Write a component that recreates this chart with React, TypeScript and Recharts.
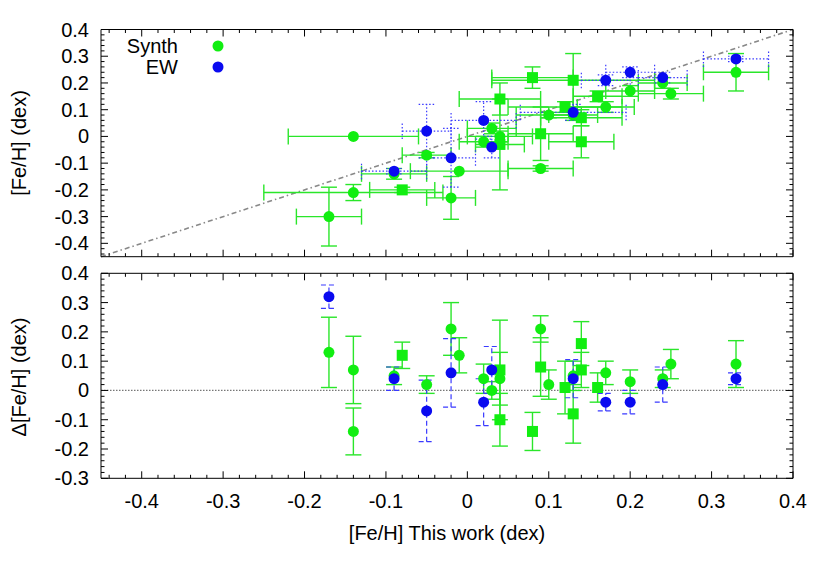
import React from 'react';
import { ScatterChart, Scatter, XAxis, YAxis, ErrorBar, ReferenceLine } from 'recharts';

// ---------------- data ----------------
// [Fe/H] this work, literature [Fe/H], x error, y error
const topSynthCircles: number[][] = [
  [-0.17, -0.30, 0.04, 0.11],
  [-0.14, 0.00, 0.08, 0.0],
  [-0.14, -0.21, 0.11, 0.03],
  [-0.09, -0.14, 0.04, 0.02],
  [-0.05, -0.07, 0.03, 0.01],
  [-0.02, -0.23, 0.03, 0.08],
  [-0.01, -0.13, 0.06, 0.0],
  [0.02, -0.02, 0.03, 0.02],
  [0.03, 0.03, 0.03, 0.02],
  [0.04, 0.00, 0.04, 0.02],
  [0.09, -0.12, 0.04, 0.01],
  [0.10, 0.08, 0.04, 0.01],
  [0.13, 0.08, 0.03, 0.02],
  [0.17, 0.11, 0.035, 0.02],
  [0.20, 0.17, 0.03, 0.02],
  [0.24, 0.20, 0.03, 0.02],
  [0.25, 0.16, 0.04, 0.02],
  [0.33, 0.24, 0.04, 0.07],
];
const topSynthSquares: number[][] = [
  [-0.08, -0.20, 0.04, 0.01],
  [0.04, -0.03, 0.03, 0.17],
  [0.04, 0.14, 0.05, 0.06],
  [0.08, 0.22, 0.05, 0.04],
  [0.09, 0.01, 0.04, 0.10],
  [0.12, 0.11, 0.07, 0.02],
  [0.13, 0.21, 0.10, 0.10],
  [0.14, 0.07, 0.05, 0.03],
  [0.14, -0.02, 0.04, 0.06],
  [0.16, 0.15, 0.03, 0.02],
];
const topEW: number[][] = [
  [-0.09, -0.13, 0.04, 0.01],
  [-0.05, 0.02, 0.03, 0.10],
  [-0.02, -0.08, 0.03, 0.11],
  [0.02, 0.06, 0.04, 0.07],
  [0.03, -0.04, 0.0, 0.04],
  [0.13, 0.09, 0.065, 0.03],
  [0.17, 0.21, 0.03, 0.02],
  [0.20, 0.24, 0.03, 0.02],
  [0.24, 0.22, 0.03, 0.02],
  [0.33, 0.29, 0.04, 0.01],
];
// [Fe/H] this work, delta, error
const deltaSynthCircles: number[][] = [
  [-0.17, 0.13, 0.12],
  [-0.14, -0.14, 0.08],
  [-0.14, 0.07, 0.115],
  [-0.09, 0.05, 0.03],
  [-0.05, 0.02, 0.03],
  [-0.02, 0.21, 0.09],
  [-0.01, 0.12, 0.06],
  [0.02, 0.04, 0.05],
  [0.03, 0.00, 0.03],
  [0.04, 0.04, 0.09],
  [0.09, 0.21, 0.045],
  [0.10, 0.02, 0.05],
  [0.13, 0.05, 0.05],
  [0.17, 0.06, 0.04],
  [0.20, 0.03, 0.04],
  [0.24, 0.04, 0.03],
  [0.25, 0.09, 0.05],
  [0.33, 0.09, 0.08],
];
const deltaSynthSquares: number[][] = [
  [-0.08, 0.12, 0.045],
  [0.04, 0.07, 0.17],
  [0.04, -0.10, 0.09],
  [0.08, -0.14, 0.065],
  [0.09, 0.08, 0.10],
  [0.12, 0.01, 0.09],
  [0.13, -0.08, 0.10],
  [0.14, 0.07, 0.06],
  [0.14, 0.16, 0.075],
  [0.16, 0.01, 0.05],
];
const deltaEW: number[][] = [
  [-0.17, 0.32, 0.04],
  [-0.09, 0.04, 0.04],
  [-0.05, -0.07, 0.105],
  [-0.02, 0.06, 0.117],
  [0.02, -0.04, 0.08],
  [0.03, 0.07, 0.08],
  [0.13, 0.04, 0.065],
  [0.17, -0.04, 0.03],
  [0.20, -0.04, 0.04],
  [0.24, 0.02, 0.06],
  [0.33, 0.04, 0.02],
];

const xDomain: [number, number] = [-0.45, 0.4];
const topYDomain: [number, number] = [-0.45, 0.4];
const bottomYDomain: [number, number] = [-0.3, 0.4];
const xTickLabels = ['-0.4', '-0.3', '-0.2', '-0.1', '0', '0.1', '0.2', '0.3', '0.4'];
const topYTickLabels = ['-0.4', '-0.3', '-0.2', '-0.1', '0', '0.1', '0.2', '0.3', '0.4'];
const bottomYTickLabels = ['-0.3', '-0.2', '-0.1', '0', '0.1', '0.2', '0.3', '0.4'];
const legendLabels = ['Synth', 'EW'];
const xTitle = '[Fe/H] This work (dex)';
const topYTitle = '[Fe/H] (dex)';
const bottomYTitle = '\u0394[Fe/H] (dex)';

// ---------------- layout / style ----------------
const W = 830;
const H = 581;
const LEFT = 101;
const RIGHT = 793;
const TOP1 = 29.5;
const BOT1 = 256.7;
const TOP2 = 273.3;
const BOT2 = 478.3;
const FONT = '"Liberation Sans", Arial, Helvetica, sans-serif';
const FS = 20;
const GREEN = '#11ee11';
const GREEN_ERR = '#2ae62a';
const BLUE = '#0a0af0';
const BLUE_ERR = '#3a3aff';
const R = 5.5;

const toTop = (rows: number[][]) => rows.map(([x, y, xe, ye]) => ({ x, y, xe, ye }));
const toDelta = (rows: number[][]) => rows.map(([x, y, ye]) => ({ x, y, ye }));

const stepTicks = (lo: number, hi: number): number[] => {
  const out: number[] = [];
  for (let k = Math.ceil(lo * 50 - 1e-6); k <= Math.floor(hi * 50 + 1e-6); k++) out.push(Math.round(k * 2) / 100);
  return out;
};
const isMajor = (v: number) => Math.abs(v * 10 - Math.round(v * 10)) < 1e-6;
const labelFor = (labels: string[], v: number) => labels.find((l) => Math.abs(parseFloat(l) - v) < 1e-6);

const makeXTick = (side: 'bottom' | 'top', labels: string[] | null) => (props: any) => {
  const { x, y, payload } = props;
  const v = payload.value;
  const major = isMajor(v);
  const len = major ? 7 : 3.5;
  const dir = side === 'bottom' ? -1 : 1;
  const lab = labels && major ? labelFor(labels, v) : undefined;
  return (
    <g>
      <line x1={x} x2={x} y1={y} y2={y + dir * len} stroke="#000" strokeWidth={1} />
      {lab !== undefined && (
        <text x={x} y={y + 23} textAnchor="middle" dominantBaseline="central" fontFamily={FONT} fontSize={FS} fill="#000">
          {lab}
        </text>
      )}
    </g>
  );
};

const makeYTick = (side: 'left' | 'right', labels: string[] | null) => (props: any) => {
  const { x, y, payload } = props;
  const v = payload.value;
  const major = isMajor(v);
  const len = major ? 7 : 3.5;
  const dir = side === 'left' ? 1 : -1;
  const lab = labels && major ? labelFor(labels, v) : undefined;
  return (
    <g>
      <line x1={x} x2={x + dir * len} y1={y} y2={y} stroke="#000" strokeWidth={1} />
      {lab !== undefined && (
        <text x={x - 12} y={y} textAnchor="end" dominantBaseline="central" fontFamily={FONT} fontSize={FS} fill="#000">
          {lab}
        </text>
      )}
    </g>
  );
};

const circleShape = (fill: string) => (p: any) => <circle cx={p.cx} cy={p.cy} r={R} fill={fill} />;
const squareShape = (fill: string) => (p: any) => <rect x={p.cx - R} y={p.cy - R} width={2 * R} height={2 * R} fill={fill} />;

const axisCommon = { tickSize: 0, tickMargin: 0, tickLine: false, interval: 0 as const, axisLine: { stroke: '#000', strokeWidth: 1 }, allowDataOverflow: true };

function Panel(props: { top: number; bottom: number; yDomain: [number, number]; yLabels: string[]; xLabels: boolean; children: React.ReactNode }) {
  const { top, bottom, yDomain, yLabels, xLabels, children } = props;
  const xt = stepTicks(xDomain[0], xDomain[1]);
  const yt = stepTicks(yDomain[0], yDomain[1]);
  return (
    <div style={{ position: 'absolute', left: 0, top: 0, width: W, height: H }}>
      <ScatterChart width={W} height={H} margin={{ top: top - 1, right: W - RIGHT - 1, bottom: H - bottom - 1, left: LEFT - 1 }}>
        <XAxis xAxisId="b" type="number" dataKey="x" orientation="bottom" height={1} domain={xDomain} ticks={xt} tick={makeXTick('bottom', xLabels ? xTickLabels : null)} {...axisCommon} />
        <XAxis xAxisId="t" type="number" dataKey="x" orientation="top" height={1} domain={xDomain} ticks={xt} tick={makeXTick('top', null)} {...axisCommon} />
        <YAxis yAxisId="l" type="number" dataKey="y" orientation="left" width={1} domain={yDomain} ticks={yt} tick={makeYTick('left', yLabels)} {...axisCommon} />
        <YAxis yAxisId="r" type="number" dataKey="y" orientation="right" width={1} domain={yDomain} ticks={yt} tick={makeYTick('right', null)} {...axisCommon} />
        {children}
      </ScatterChart>
    </div>
  );
}

export default function App() {
  return (
    <div style={{ position: 'absolute', left: 0, top: 0, width: W, height: H, background: '#fff' }}>
      <Panel top={TOP1} bottom={BOT1} yDomain={topYDomain} yLabels={topYTickLabels} xLabels={false}>
        <ReferenceLine xAxisId="b" yAxisId="l" segment={[{ x: xDomain[0], y: topYDomain[0] }, { x: xDomain[1], y: topYDomain[1] }]} stroke="#888" strokeWidth={1.6} strokeDasharray="5 3 1.5 3" ifOverflow="visible" />
        <Scatter xAxisId="b" yAxisId="l" data={toTop(topSynthCircles)} shape={circleShape(GREEN)} isAnimationActive={false}>
          <ErrorBar dataKey="xe" direction="x" width={8} stroke={GREEN_ERR} strokeWidth={1.4} />
          <ErrorBar dataKey="ye" direction="y" width={8} stroke={GREEN_ERR} strokeWidth={1.4} />
        </Scatter>
        <Scatter xAxisId="b" yAxisId="l" data={toTop(topSynthSquares)} shape={squareShape(GREEN)} isAnimationActive={false}>
          <ErrorBar dataKey="xe" direction="x" width={8} stroke={GREEN_ERR} strokeWidth={1.4} />
          <ErrorBar dataKey="ye" direction="y" width={8} stroke={GREEN_ERR} strokeWidth={1.4} />
        </Scatter>
        <Scatter xAxisId="b" yAxisId="l" data={toTop(topEW)} shape={circleShape(BLUE)} isAnimationActive={false}>
          <ErrorBar dataKey="xe" direction="x" width={8} stroke={BLUE_ERR} strokeWidth={1.2} strokeDasharray="1.5 2" />
          <ErrorBar dataKey="ye" direction="y" width={8} stroke={BLUE_ERR} strokeWidth={1.2} strokeDasharray="1.5 2" />
        </Scatter>
      </Panel>
      <Panel top={TOP2} bottom={BOT2} yDomain={bottomYDomain} yLabels={bottomYTickLabels} xLabels={true}>
        <ReferenceLine xAxisId="b" yAxisId="l" y={0} stroke="#777" strokeWidth={1.3} strokeDasharray="1.5 1.5" />
        <Scatter xAxisId="b" yAxisId="l" data={toDelta(deltaSynthCircles)} shape={circleShape(GREEN)} isAnimationActive={false}>
          <ErrorBar dataKey="ye" direction="y" width={8} stroke={GREEN_ERR} strokeWidth={1.4} />
        </Scatter>
        <Scatter xAxisId="b" yAxisId="l" data={toDelta(deltaSynthSquares)} shape={squareShape(GREEN)} isAnimationActive={false}>
          <ErrorBar dataKey="ye" direction="y" width={8} stroke={GREEN_ERR} strokeWidth={1.4} />
        </Scatter>
        <Scatter xAxisId="b" yAxisId="l" data={toDelta(deltaEW)} shape={circleShape(BLUE)} isAnimationActive={false}>
          <ErrorBar dataKey="ye" direction="y" width={8} stroke={BLUE_ERR} strokeWidth={1.2} strokeDasharray="5 3" />
        </Scatter>
      </Panel>
      <svg width={W} height={H} style={{ position: 'absolute', left: 0, top: 0, pointerEvents: 'none' }}>
        <g fontFamily={FONT} fontSize={FS} fill="#000">
          <text x={178} y={46} textAnchor="end" dominantBaseline="central">{legendLabels[0]}</text>
          <text x={178} y={67} textAnchor="end" dominantBaseline="central">{legendLabels[1]}</text>
          <text x={447} y={533} textAnchor="middle" dominantBaseline="central">{xTitle}</text>
          <text transform="translate(19,143) rotate(-90)" textAnchor="middle" dominantBaseline="central">{topYTitle}</text>
          <text transform="translate(19,377) rotate(-90)" textAnchor="middle" dominantBaseline="central">{bottomYTitle}</text>
        </g>
        <circle cx={218} cy={46} r={R} fill={GREEN} />
        <circle cx={218} cy={67} r={R} fill={BLUE} />
      </svg>
    </div>
  );
}
